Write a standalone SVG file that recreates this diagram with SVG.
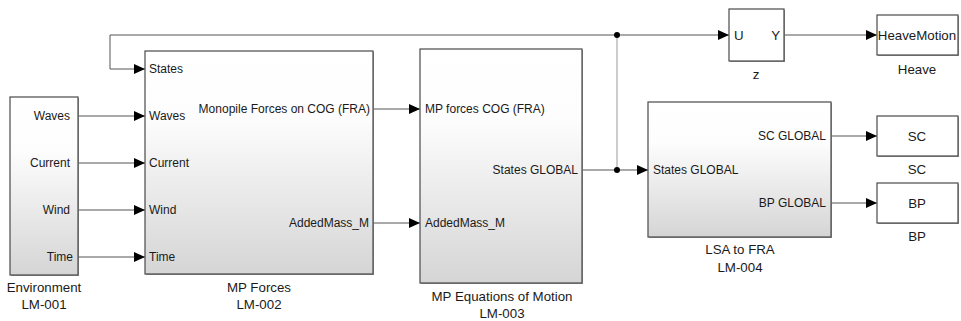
<svg xmlns="http://www.w3.org/2000/svg" width="961" height="321" viewBox="0 0 961 321">
  <defs>
    <linearGradient id="blockFill" x1="0" y1="0" x2="0" y2="1">
      <stop offset="0" stop-color="#ffffff"/>
      <stop offset="0.3" stop-color="#fdfdfd"/>
      <stop offset="1" stop-color="#d5d5d5"/>
    </linearGradient>
    <marker id="arrow" markerWidth="11" markerHeight="10" refX="11" refY="5" orient="auto" markerUnits="userSpaceOnUse">
      <path d="M0,0 L11,5 L0,10 Z" fill="#000"/>
    </marker>
  </defs>
  <style>
    text { font-family: "Liberation Sans", Arial, sans-serif; font-size: 12px; fill: #1a1a1a; }
    .cap { font-size: 13.3px; }
    .shadow { fill: #9a9a9a; }
    .blk { stroke: #4a4a4a; stroke-width: 1.2; }
    .grad { fill: url(#blockFill); }
    .plain { fill: #ffffff; }
    .wire { fill: none; stroke: #555; stroke-width: 1; }
    .branch { fill: none; stroke: #aaa; stroke-width: 1.2; }
    .arr { marker-end: url(#arrow); }
    .end { text-anchor: end; }
    .mid { text-anchor: middle; }
  </style>

  <rect width="961" height="321" fill="#ffffff"/>

  <!-- connectors -->
  <g id="connectors">
    <path class="wire arr" d="M78,116 H145"/>
    <path class="wire arr" d="M78,163 H145"/>
    <path class="wire arr" d="M78,210 H145"/>
    <path class="wire arr" d="M78,257 H145"/>
    <path class="wire arr" d="M617,35 H110 V69 H145"/>
    <path class="wire arr" d="M373,109 H420"/>
    <path class="wire arr" d="M373,223 H420"/>
    <path class="wire" d="M582,170 H617"/>
    <path class="wire arr" d="M617,170 H648"/>
    <path class="branch" d="M617,35 V170"/>
    <path class="wire arr" d="M617,35 H729"/>
    <path class="wire arr" d="M784,35 H877"/>
    <path class="wire arr" d="M831,136 H877"/>
    <path class="wire arr" d="M831,203 H877"/>
    <circle cx="617" cy="35" r="3" fill="#000"/>
    <circle cx="617" cy="170" r="3" fill="#000"/>
  </g>

  <!-- Environment -->
  <g id="environment">
    <rect class="shadow" x="11" y="98" width="68" height="178"/>
    <rect class="blk grad" x="10" y="97" width="68" height="178"/>
    <text class="end" x="70" y="120">Waves</text>
    <text class="end" x="70" y="167">Current</text>
    <text class="end" x="70" y="214">Wind</text>
    <text class="end" x="73" y="261">Time</text>
    <text class="mid cap" x="44" y="292">Environment</text>
    <text class="mid cap" x="44" y="309">LM-001</text>
  </g>

  <!-- MP Forces -->
  <g id="mp-forces">
    <rect class="shadow" x="146" y="52" width="228" height="223"/>
    <rect class="blk grad" x="145" y="51" width="228" height="223"/>
    <text x="149" y="73">States</text>
    <text x="149" y="120">Waves</text>
    <text x="149" y="167">Current</text>
    <text x="149" y="214">Wind</text>
    <text x="149" y="261">Time</text>
    <text class="end" x="370" y="113">Monopile Forces on COG (FRA)</text>
    <text class="end" x="369" y="227">AddedMass_M</text>
    <text class="mid cap" x="259" y="292">MP Forces</text>
    <text class="mid cap" x="259" y="309">LM-002</text>
  </g>

  <!-- MP Equations of Motion -->
  <g id="mp-equations">
    <rect class="shadow" x="421" y="50" width="162" height="234"/>
    <rect class="blk grad" x="420" y="49" width="162" height="234"/>
    <text x="425" y="113">MP forces COG (FRA)</text>
    <text x="425" y="227">AddedMass_M</text>
    <text class="end" x="578" y="174">States GLOBAL</text>
    <text class="mid cap" x="502" y="301">MP Equations of Motion</text>
    <text class="mid cap" x="502" y="318">LM-003</text>
  </g>

  <!-- z -->
  <g id="z">
    <rect class="shadow" x="730" y="10" width="55" height="52"/>
    <rect class="blk plain" x="729" y="9" width="55" height="52"/>
    <text class="cap" x="734" y="40">U</text>
    <text class="end cap" x="780" y="40">Y</text>
    <text class="mid cap" x="756" y="79">z</text>
  </g>

  <!-- Heave -->
  <g id="heave">
    <rect class="shadow" x="878" y="16" width="81" height="40"/>
    <rect class="blk plain" x="877" y="15" width="81" height="40"/>
    <text class="mid cap" x="917" y="40">HeaveMotion</text>
    <text class="mid cap" x="917" y="74">Heave</text>
  </g>

  <!-- LSA to FRA -->
  <g id="lsa-to-fra">
    <rect class="shadow" x="649" y="103" width="183" height="135"/>
    <rect class="blk grad" x="648" y="102" width="183" height="135"/>
    <text x="653" y="174">States GLOBAL</text>
    <text class="end" x="826" y="140">SC GLOBAL</text>
    <text class="end" x="826" y="207">BP GLOBAL</text>
    <text class="mid cap" x="740" y="254">LSA to FRA</text>
    <text class="mid cap" x="740" y="272">LM-004</text>
  </g>

  <!-- SC -->
  <g id="sc">
    <rect class="shadow" x="878" y="117" width="81" height="40"/>
    <rect class="blk plain" x="877" y="116" width="81" height="40"/>
    <text class="mid cap" x="917" y="141">SC</text>
    <text class="mid cap" x="917" y="174">SC</text>
  </g>

  <!-- BP -->
  <g id="bp">
    <rect class="shadow" x="878" y="184" width="81" height="40"/>
    <rect class="blk plain" x="877" y="183" width="81" height="40"/>
    <text class="mid cap" x="917" y="208">BP</text>
    <text class="mid cap" x="917" y="241">BP</text>
  </g>
</svg>
